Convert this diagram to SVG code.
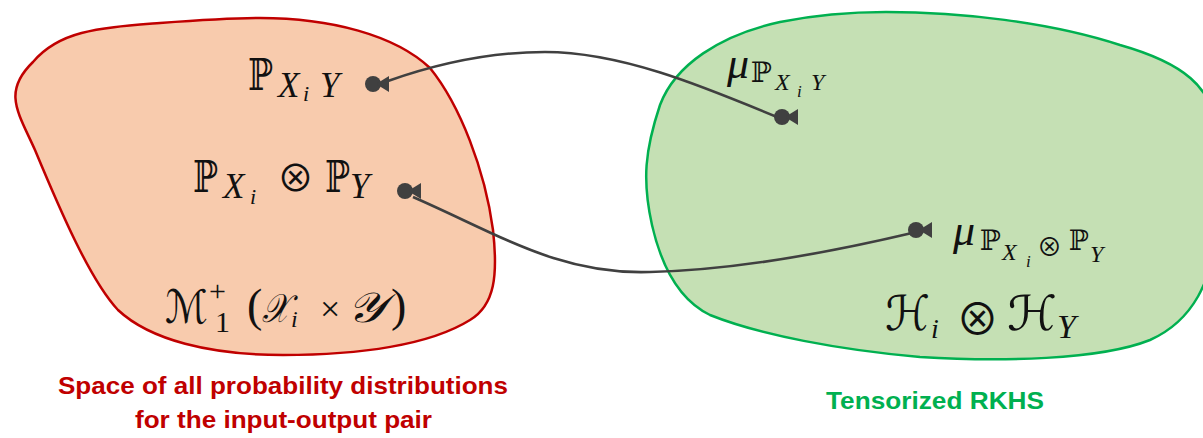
<svg xmlns="http://www.w3.org/2000/svg" xmlns:xlink="http://www.w3.org/1999/xlink" width="1203" height="438" viewBox="0 0 1203 438">
<style>
.bb{font-family:"DejaVu Serif","DejaVu Sans",serif;fill:#111}
.it{font-family:"Liberation Serif","DejaVu Serif",serif;font-style:italic;fill:#111}
.rm{font-family:"Liberation Serif","DejaVu Serif",serif;fill:#111}
.op{font-family:"Noto Sans CJK JP","DejaVu Serif",sans-serif;fill:#111}
.cal{font-family:"DejaVu Sans","DejaVu Serif",serif;font-style:italic;fill:#111}
.cap{font-family:"Liberation Sans Narrow","Liberation Sans",Arial,sans-serif;font-weight:bold;font-size:24px;text-anchor:start}
.conn{fill:none;stroke:#404040;stroke-width:2.6}
</style>
<defs>
<g id="pt"><circle cx="0" cy="0" r="8" fill="#404040"/><polygon points="3,0 16,-8 16,8" fill="#404040"/></g>
</defs>
<g id="space-red">
<path d="M 260,18 C 330,18 395,35 430,68 C 460,105 485,170 493,230 C 498,275 495,305 470,320 C 430,345 360,355 283,355 C 210,355 150,340 118,310 C 90,280 60,210 35,150 C 18,112 2,92 33,62 C 60,30 100,28 160,23 C 200,20 230,18 260,18 Z" fill="#F8CBAD" stroke="#C00000" stroke-width="2.5"/>
</g>
<g id="space-green">
<path d="M 886,12 C 960,12 1050,22 1120,45 C 1180,62 1215,85 1220,140 L 1220,230 C 1210,280 1195,320 1150,340 C 1100,360 1000,362 920,357 C 840,350 760,335 710,315 C 675,298 660,260 652,225 C 642,180 645,150 660,105 C 675,65 720,35 780,22 C 820,14 850,12 886,12 Z" fill="#C5E0B4" stroke="#00B050" stroke-width="2.5"/>
</g>
<g id="connectors">
<path class="conn" d="M 388,81 Q 470,52 545,52 C 620,52 700,85 777,117"/>
<path class="conn" d="M 413,197 C 500,235 560,275 650,272 C 740,270 840,250 912,233"/>
<use xlink:href="#pt" href="#pt" x="373" y="84"/>
<use xlink:href="#pt" href="#pt" x="782" y="117"/>
<use xlink:href="#pt" href="#pt" x="405" y="191"/>
<use xlink:href="#pt" href="#pt" x="916" y="230"/>
</g>
<g id="label-pxy">
<text class="bb" x="248" y="90" font-size="44" textLength="25" lengthAdjust="spacingAndGlyphs">ℙ</text>
<text class="it" x="278" y="97" font-size="35">X</text>
<text class="it" x="303" y="101" font-size="22">i</text>
<text class="it" x="320" y="97" font-size="35">Y</text>
</g>
<g id="label-pxpy">
<text class="bb" x="193" y="192" font-size="44" textLength="25" lengthAdjust="spacingAndGlyphs">ℙ</text>
<text class="it" x="223" y="198" font-size="35">X</text>
<text class="it" x="250" y="204" font-size="22">i</text>
<text class="op" x="277" y="192" font-size="37">⊗</text>
<text class="bb" x="325" y="192" font-size="44" textLength="25" lengthAdjust="spacingAndGlyphs">ℙ</text>
<text class="it" x="350" y="198" font-size="35">Y</text>
</g>
<g id="label-m1">
<text class="cal" x="165" y="323" font-size="46" textLength="43" lengthAdjust="spacingAndGlyphs">ℳ</text>
<text class="rm" x="209" y="301" font-size="30">+</text>
<text class="rm" x="215" y="332" font-size="30">1</text>
<text class="rm" x="247" y="321" font-size="46">(</text>
<text class="cal" x="262" y="322" font-size="40" textLength="27" lengthAdjust="spacingAndGlyphs">𝒳</text>
<text class="it" x="291" y="327" font-size="24">i</text>
<text class="rm" x="320" y="321" font-size="36">×</text>
<text class="cal" x="347" y="322" font-size="42" textLength="38" lengthAdjust="spacingAndGlyphs">𝒴</text>
<text class="rm" x="391" y="321" font-size="46">)</text>
</g>
<g id="label-mu-pxy">
<text class="it" x="727" y="78" font-size="44">μ</text>
<text class="bb" x="751" y="82" font-size="28" textLength="21" lengthAdjust="spacingAndGlyphs">ℙ</text>
<text class="it" x="775" y="90" font-size="24">X</text>
<text class="it" x="797" y="97" font-size="17">i</text>
<text class="it" x="811" y="90" font-size="24">Y</text>
</g>
<g id="label-mu-pxpy">
<text class="it" x="953" y="245" font-size="44">μ</text>
<text class="bb" x="980" y="250" font-size="28" textLength="21" lengthAdjust="spacingAndGlyphs">ℙ</text>
<text class="it" x="1002" y="260" font-size="24">X</text>
<text class="it" x="1026" y="267" font-size="17">i</text>
<text class="op" x="1037" y="256" font-size="25">⊗</text>
<text class="bb" x="1069" y="250" font-size="28" textLength="20" lengthAdjust="spacingAndGlyphs">ℙ</text>
<text class="it" x="1090" y="262" font-size="24">Y</text>
</g>
<g id="label-h">
<text class="cal" x="885" y="330" font-size="48" textLength="45" lengthAdjust="spacingAndGlyphs">ℋ</text>
<text class="it" x="931" y="338" font-size="28">i</text>
<text class="op" x="956" y="335" font-size="43">⊗</text>
<text class="cal" x="1007" y="330" font-size="48" textLength="50" lengthAdjust="spacingAndGlyphs">ℋ</text>
<text class="it" x="1057" y="338" font-size="34">Y</text>
</g>
<g id="caption-red">
<text class="cap" x="58" y="394" fill="#C00000" textLength="450" lengthAdjust="spacingAndGlyphs">Space of all probability distributions</text>
<text class="cap" x="135" y="428" fill="#C00000" textLength="297" lengthAdjust="spacingAndGlyphs">for the input-output pair</text>
</g>
<g id="caption-green">
<text class="cap" x="826" y="409" fill="#00B050" textLength="218" lengthAdjust="spacingAndGlyphs">Tensorized RKHS</text>
</g>
</svg>
